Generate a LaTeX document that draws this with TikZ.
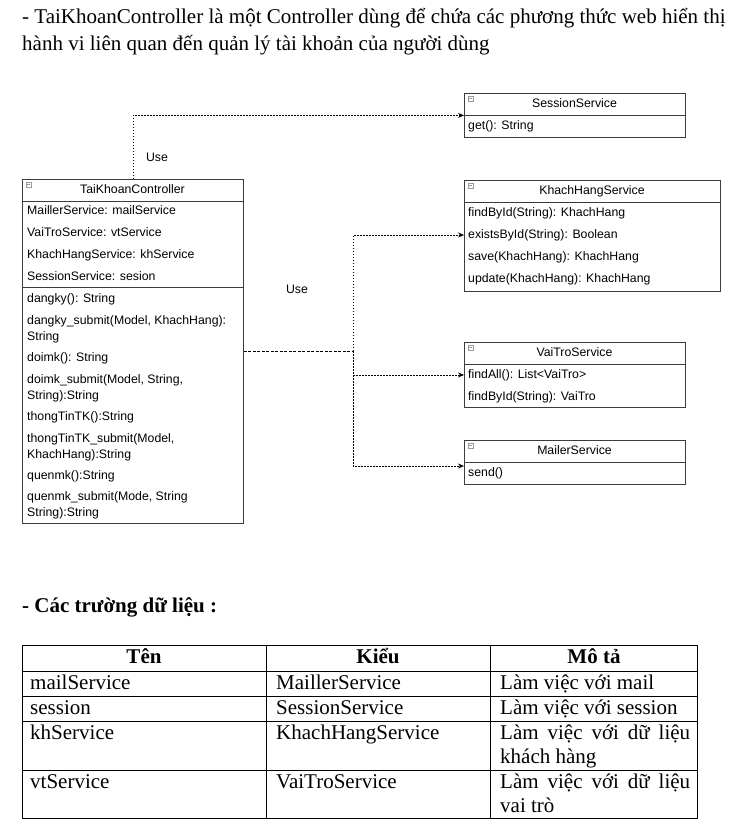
\documentclass[tikz,border=0pt]{standalone}
\usepackage{fontspec}
\setmainfont{Liberation Serif}
\newfontfamily\umlfont{Liberation Sans}
\usetikzlibrary{arrows.meta}
\definecolor{boxgray}{HTML}{3C3C3C}
\definecolor{icongray}{HTML}{9A9A9A}
\begin{document}
\begin{tikzpicture}[x=1pt,y=-1pt,
  umlbox/.style={draw=boxgray, line width=0.8pt, anchor=north west, inner sep=0pt},
  umltxt/.style={anchor=west, inner sep=0pt, font=\umlfont\fontsize{12.3}{14}\selectfont, text height=9pt, text depth=2.7pt},
  umlhead/.style={anchor=center, inner sep=0pt, font=\umlfont\fontsize{12.3}{14}\selectfont, text height=9pt, text depth=2.7pt},
  sepline/.style={draw=boxgray, line width=0.8pt},
  useline/.style={draw=black, line width=0.7pt, dash pattern=on 1.5pt off 1.5pt},
  mainline/.style={draw=black, line width=1pt, dash pattern=on 3pt off 1.5pt},
  tip/.style={-{Stealth[length=6pt,width=5pt]}},
  uselbl/.style={anchor=center, inner sep=1pt, font=\umlfont\fontsize{12.3}{14}\selectfont},
  prose/.style={anchor=west, inner sep=0pt, font=\fontsize{21}{25}\selectfont, text height=14.5pt, text depth=4.5pt},
  cell/.style={anchor=west, inner sep=0pt, font=\fontsize{21}{25}\selectfont, text height=14.5pt, text depth=4.5pt},
  hcell/.style={anchor=center, inner sep=0pt, font=\bfseries\fontsize{21}{25}\selectfont, text height=14.5pt, text depth=4.5pt},
  tline/.style={draw=black, line width=0.8pt}
]
\useasboundingbox[fill=white] (0,0) rectangle (730,836);

% ---- prose ----
\node[prose] (p1) at (22,18) {- TaiKhoanController là một Controller dùng để chứa các phương thức web hiển thị};
\node[prose] (p2) at (22,45) {hành vi liên quan đến quản lý tài khoản của người dùng};

% ---- TaiKhoanController ----
\node[umlbox, minimum width=221pt, minimum height=344pt] (tk) at (22,179) {};
\draw[sepline] (22,201) -- (243,201);
\draw[sepline] (22,287) -- (243,287);
\node[umlhead] (tkh) at (132.5,190) {TaiKhoanController};
\foreach \t/\yy [count=\i] in {
  {MaillerService: mailService}/211,
  {VaiTroService: vtService}/233,
  {KhachHangService: khService}/255,
  {SessionService: sesion}/277,
  {dangky(): String}/299,
  {dangky\_submit(Model, KhachHang):}/321,
  {String}/337,
  {doimk(): String}/358,
  {doimk\_submit(Model, String,}/380,
  {String):String}/396,
  {thongTinTK():String}/417,
  {thongTinTK\_submit(Model,}/439,
  {KhachHang):String}/455,
  {quenmk():String}/476,
  {quenmk\_submit(Mode, String}/497,
  {String):String}/513}
  \node[umltxt] (tk\i) at (27,\yy) {\t};

% ---- SessionService ----
\node[umlbox, minimum width=221pt, minimum height=44pt] (ss) at (464,93) {};
\draw[sepline] (464,115) -- (685,115);
\node[umlhead] (ssh) at (574.5,104) {SessionService};
\node[umltxt] (ss1) at (468,126) {get(): String};

% ---- KhachHangService ----
\node[umlbox, minimum width=256pt, minimum height=111pt] (kh) at (464,180) {};
\draw[sepline] (464,202) -- (720,202);
\node[umlhead] (khh) at (592,191) {KhachHangService};
\node[umltxt] (kh1) at (468,213) {findById(String): KhachHang};
\node[umltxt] (kh2) at (468,235) {existsById(String): Boolean};
\node[umltxt] (kh3) at (468,257) {save(KhachHang): KhachHang};
\node[umltxt] (kh4) at (468,279) {update(KhachHang): KhachHang};

% ---- VaiTroService ----
\node[umlbox, minimum width=221pt, minimum height=65pt] (vt) at (464,342) {};
\draw[sepline] (464,364) -- (685,364);
\node[umlhead] (vth) at (574.5,353) {VaiTroService};
\node[umltxt] (vt1) at (468,375) {findAll(): List<VaiTro>};
\node[umltxt] (vt2) at (468,397) {findById(String): VaiTro};

% ---- MailerService ----
\node[umlbox, minimum width=221pt, minimum height=44pt] (ms) at (464,440) {};
\draw[sepline] (464,462) -- (685,462);
\node[umlhead] (msh) at (574.5,451) {MailerService};
\node[umltxt] (ms1) at (468,473) {send()};

% ---- header icons ----
\foreach \ix/\iy in {26/182, 468/96, 468/183, 468/345, 468/443} {
  \draw[icongray, line width=0.5pt] (\ix,\iy) rectangle ++(5,5);
  \draw[icongray, line width=0.5pt] (\ix+1,\iy+2.5) -- ++(3,0);
}

% ---- connectors ----
\draw[useline, tip] (tk.north) |- (ss.west);
\node[uselbl] (use1) at (157,157) {Use};

\coordinate (j) at (353,351);
\draw[mainline] (tk.east |- j) -- (j);
\draw[useline, tip] (j) |- (kh.west |- kh2.center);
\draw[useline, tip] (j) |- (vt.west |- vt1.center);
\draw[useline, tip] (j) |- (ms.west |- 0,466);
\node[uselbl] (use2) at (297,289) {Use};

% ---- section heading ----
\node[prose, font=\bfseries\fontsize{21}{25}\selectfont] (h2) at (22,607) {- Các trường dữ liệu :};

% ---- table ----
\draw[tline] (22,645) rectangle (697,818);
\draw[tline] (22,671) -- (697,671);
\draw[tline] (22,696) -- (697,696);
\draw[tline] (22,721) -- (697,721);
\draw[tline] (22,770) -- (697,770);
\draw[tline] (266,645) -- (266,818);
\draw[tline] (490,645) -- (490,818);

\node[hcell] (c11) at (144,658) {Tên};
\node[hcell] (c12) at (378,658) {Kiểu};
\node[hcell] (c13) at (594,658) {Mô tả};

\node[cell] (c21) at (30,684) {mailService};
\node[cell] (c22) at (276,684) {MaillerService};
\node[cell] (c23) at (500,684) {Làm việc với mail};

\node[cell] (c31) at (30,709) {session};
\node[cell] (c32) at (276,709) {SessionService};
\node[cell] (c33) at (500,709) {Làm việc với session};

\node[cell] (c41) at (30,734) {khService};
\node[cell] (c42) at (276,734) {KhachHangService};
\node[cell] (c43) at (500,734) {\makebox[190pt][s]{Làm việc với dữ liệu}};
\node[cell] (c44) at (500,758) {khách hàng};

\node[cell] (c51) at (30,783) {vtService};
\node[cell] (c52) at (276,783) {VaiTroService};
\node[cell] (c53) at (500,783) {\makebox[190pt][s]{Làm việc với dữ liệu}};
\node[cell] (c54) at (500,807) {vai trò};
\end{tikzpicture}
\end{document}
